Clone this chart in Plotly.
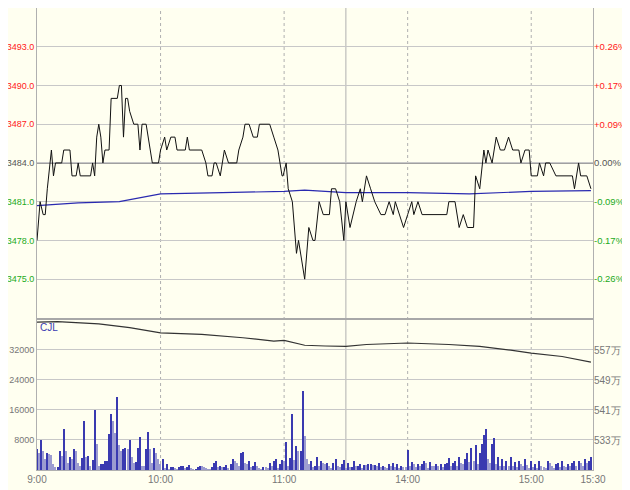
import plotly.graph_objects as go

# ---- data ----
price_min = [0,1.5,3,4,5,7,8,9,12,13,16,17,19,20,21,26,27,28,29,30,31,32,33,35,36,39,40,41,42,43,44,45,47,49,50,51,53,56,59,60,62,63,65,67,68,72,73,74,80,82,83,85,86,87,89,91,93,97,98,100,101,103,105,107,108,113,115,117,119,119.5,121,122,124,126,127,128,130,132,134,135,137,139,142,143,145,147,149,150,152,155,157,158,160,162,164,167,169,171,173,174,176,178,180,182,183,185,187,199,200,203,205,207,209,212,213,215,217,218,219,221,223,225,227,229,231,234,235,237,239,240,243,244,246,247,249,252,260,261,263,264,267,269]
price_val = [3478,3481,3480,3480,3482,3485,3483,3484,3484,3485,3485,3483,3483,3484,3483,3483,3484,3483,3486,3487,3486,3484,3485,3485,3489,3489,3490,3490,3486,3489,3489,3488,3487,3487,3485,3487,3487,3484,3484,3485,3486,3485,3486,3486,3485,3485,3486,3485,3485,3484,3483,3483,3484,3484,3483,3485,3484,3484,3485,3486,3487,3487,3486,3486,3487,3487,3486,3485,3483,3483,3484,3482,3481,3477,3478,3477,3475,3479,3478,3478,3481,3480,3480,3482,3482,3481,3478,3481,3479,3481,3482,3481,3483,3482,3481,3480,3480,3481,3480,3481,3480,3479,3480,3481,3480,3481,3480,3480,3481,3481,3479,3480,3479,3479,3483,3482,3485,3484,3485,3484,3486,3485,3485,3486,3485,3485,3484,3485,3485,3483,3483,3484,3483,3484,3484,3483,3483,3482,3484,3483,3483,3482]
avg_min = [0,20,40,50,60,90,120,130,140,150,180,210,240,269]
avg_val = [3480.7,3480.9,3481.0,3481.3,3481.6,3481.7,3481.8,3481.9,3481.8,3481.7,3481.7,3481.6,3481.8,3481.85]
oi_min = [0,10,30,45,60,80,100,115,120,130,140,150,160,180,200,215,230,240,255,269]
oi_val = [564.5,564.6,564.0,563.0,561.6,561.2,560.3,559.4,559.6,558.3,558.1,558.0,558.5,558.9,558.5,558.0,557.0,556.2,555.3,553.8]
volume = [5500,4500,8000,5000,3000,4500,4200,4000,1500,800,
 800,5000,3800,11000,5000,2000,3500,3000,5500,5000,
 2000,1000,3200,13000,3500,3800,1000,2700,16000,7000,
 1200,1500,1500,2500,2500,9500,15000,13000,10000,19500,
 6700,5000,5500,5800,5700,7900,3600,2000,2100,5800,
 8800,1200,1000,5700,10200,5600,2000,5800,4500,3000,
 1500,3000,600,1500,400,800,900,500,400,700,1000,1200,500,800,1400,500,300,400,800,1200,1000,900,500,400,300,800,2000,2500,800,1200,
 700,900,1300,500,1500,3000,2500,2000,1000,4500,4800,2000,1500,2500,800,1000,2200,1000,500,400,900,700,500,1800,1000,2500,3000,600,1500,2800,
 2500,7500,1200,3200,15000,2800,6500,5000,5200,21000,9000,3000,1500,2500,800,1200,3500,1000,2500,2000,1500,1800,1000,600,2000,3000,1200,800,1500,2600,
 600,1800,700,900,2500,1000,1200,1500,600,1400,1300,1500,1600,1300,1400,1000,1800,900,1200,800,600,1500,1000,1800,800,1600,600,1200,900,700,
 5300,1200,2200,1500,800,1500,1200,1500,2300,1800,500,2200,1200,1000,1600,1200,1600,800,1500,2000,3300,1200,2000,2500,1000,3600,2000,1500,3000,4500,
 2200,5900,2500,6700,1500,4500,7000,9300,11000,3000,1800,7000,8500,1500,3500,1000,3000,1200,2500,1000,3500,1000,2200,800,2500,1500,1000,3000,1300,600,
 2500,800,1500,600,2500,1000,900,500,2500,1800,1000,600,1500,2000,800,2500,1200,900,1500,1000,1800,2400,1000,2500,2000,1200,3000,1800,2500,3500]
time_ticks = [0,60,120,180,240,270]
time_labels = ["9:00","10:00","11:00","14:00","15:00","15:30"]
price_ticks = [3475,3478,3481,3484,3487,3490,3493]
pct_labels = ["-0.26%","-0.17%","-0.09%","0.00%","+0.09%","+0.17%","+0.26%"]
vol_ticks = [8000,16000,24000,32000]
oi_ticks = [533,541,549,557]
base = 3484

def col(v):
    return "#ff2020" if v > 0 else ("#22aa22" if v < 0 else "#555555")

FONT = "Liberation Sans"
BG = "#fffff0"
GRID = "#c8c8c8"
SPLIT = 0.327

fig = go.Figure()
vcolors = ["#3a3ab0" if i == 0 or volume[i] >= volume[i-1] else "#9c9cd0" for i in range(len(volume))]
fig.add_trace(go.Bar(x=list(range(len(volume))), y=volume, marker=dict(color=vcolors, line_width=0),
                     width=0.55, xaxis="x", yaxis="y3"))
fig.add_trace(go.Scatter(x=oi_min, y=oi_val, mode="lines", line=dict(color="#333333", width=1.2), xaxis="x", yaxis="y4"))
fig.add_trace(go.Scatter(x=avg_min, y=avg_val, mode="lines", line=dict(color="#2a2ab0", width=1.2), xaxis="x", yaxis="y"))
fig.add_trace(go.Scatter(x=price_min, y=price_val, mode="lines", line=dict(color="#111111", width=1), xaxis="x", yaxis="y"))
fig.add_trace(go.Scatter(x=[0], y=[base], mode="markers", marker=dict(opacity=0), xaxis="x", yaxis="y2"))

ptxt = [f"<span style='color:{col(p-base)}'>{p:.1f}</span>" for p in price_ticks]
rtxt = [f"<span style='color:{col(p-base)}'>{t}</span>" for p, t in zip(price_ticks, pct_labels)]
tickfont = dict(family=FONT, size=10, color="#777777")

shapes = []
for m, dash in [(60,"dot"),(120,"dot"),(180,"dot"),(240,"dot"),(150,"solid")]:
    shapes.append(dict(type="line", xref="x", yref="paper", x0=m, x1=m, y0=0, y1=1,
                       line=dict(color="#b0b0b0", width=1, dash=dash), layer="below"))
shapes.append(dict(type="line", xref="paper", yref="y", x0=0, x1=1, y0=base, y1=base,
                   line=dict(color="#a0a0a0", width=2), layer="below"))
shapes.append(dict(type="line", xref="paper", yref="paper", x0=0, x1=1, y0=SPLIT, y1=SPLIT,
                   line=dict(color="#a8a8a8", width=2)))

fig.update_layout(
    width=622, height=482, margin=dict(l=29, r=37, t=0, b=20, autoexpand=False),
    paper_bgcolor=BG, plot_bgcolor=BG, showlegend=False, bargap=0,
    font=dict(family=FONT, size=10),
    xaxis=dict(range=[0, 270], tickvals=time_ticks, ticktext=time_labels, showgrid=False, anchor="y3",
               tickfont=tickfont, showline=True, linecolor="#b0b0b0", mirror="all", zeroline=False,
               ticks="", automargin=False),
    yaxis=dict(domain=[SPLIT, 1], range=[3471.92, 3496.0], tickvals=price_ticks, ticktext=ptxt, anchor="x",
               gridcolor=GRID, tickfont=dict(family=FONT, size=9), zeroline=False, automargin=False,
               showline=True, linecolor="#b0b0b0", mirror=True, ticklabelstandoff=0),
    yaxis2=dict(domain=[SPLIT, 1], overlaying="y", side="right", range=[3471.92, 3496.0], anchor="x",
                tickvals=price_ticks, ticktext=rtxt, showgrid=False, zeroline=False, automargin=False,
                tickfont=dict(family=FONT, size=9.5), ticklabelstandoff=0),
    yaxis3=dict(domain=[0, SPLIT], range=[0, 40267], tickvals=vol_ticks, ticktext=[str(v) for v in vol_ticks],
                gridcolor=GRID, tickfont=dict(family=FONT, size=9, color="#777777"), zeroline=False, anchor="x",
                automargin=False, showline=True, linecolor="#b0b0b0", mirror=True, ticklabelstandoff=0),
    yaxis4=dict(domain=[0, SPLIT], overlaying="y3", side="right", range=[525, 565.33], automargin=False,
                tickvals=oi_ticks, ticktext=[f"{v}万" for v in oi_ticks], showgrid=False,
                zeroline=False, tickfont=tickfont, anchor="x"),
    shapes=shapes,
    annotations=[dict(x=0, y=SPLIT, xref="paper", yref="paper", text="CJL", showarrow=False,
                      xanchor="left", yanchor="top", yshift=-1, xshift=1,
                      font=dict(family=FONT, size=10, color="#3a3ab0"))],
)
fig.write_html("out.html")
